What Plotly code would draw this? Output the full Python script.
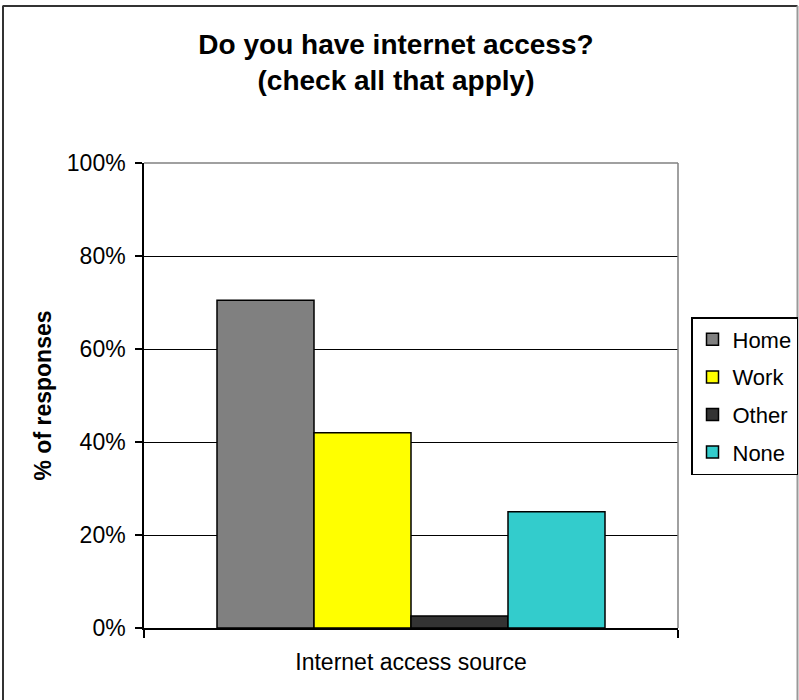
import plotly.graph_objects as go

categories = ["Internet access source"]
series_names = ["Home", "Work", "Other", "None"]
series_values = [0.705, 0.42, 0.026, 0.25]
series_colors = ["#808080", "#FFFF00", "#333333", "#33CCCC"]
y_ticks = [0, 0.2, 0.4, 0.6, 0.8, 1.0]

FONT = "Liberation Sans, Arial, sans-serif"
W, H = 799, 700
L, R, T, B = 144, 678, 163, 628

fig = go.Figure()
for name, val, col in zip(series_names, series_values, series_colors):
    fig.add_trace(go.Bar(
        x=categories, y=[val], name=name, legendgroup=name,
        marker=dict(color=col, line=dict(color="black", width=1.5)),
    ))

def px_to_paper_x(px):
    return (px - L) / (R - L)

def px_to_paper_y(py):
    return (B - py) / (B - T)

shapes = [
    dict(type="line", xref="paper", yref="paper", x0=0, x1=1, y0=1, y1=1,
         line=dict(color="#808080", width=1.5), layer="above"),
    dict(type="line", xref="paper", yref="paper", x0=1, x1=1, y0=0, y1=1,
         line=dict(color="#808080", width=1.5), layer="above"),
    dict(type="line", xref="paper", yref="paper",
         x0=px_to_paper_x(2.5), x1=px_to_paper_x(797.5),
         y0=px_to_paper_y(6), y1=px_to_paper_y(6),
         line=dict(color="#333333", width=2)),
    dict(type="line", xref="paper", yref="paper",
         x0=px_to_paper_x(3), x1=px_to_paper_x(3),
         y0=px_to_paper_y(6), y1=px_to_paper_y(702),
         line=dict(color="#333333", width=2)),
    dict(type="line", xref="paper", yref="paper",
         x0=px_to_paper_x(797.5), x1=px_to_paper_x(797.5),
         y0=px_to_paper_y(6), y1=px_to_paper_y(702),
         line=dict(color="#999999", width=2)),
]

fig.update_layout(
    width=W, height=H,
    margin=dict(l=L, r=W - R, t=T, b=H - B, pad=0, autoexpand=False),
    paper_bgcolor="white", plot_bgcolor="white",
    font=dict(family=FONT, size=23, color="black"),
    barmode="group", bargap=0.2734, bargroupgap=0,
    title=dict(
        text="Do you have internet access?<br>(check all that apply)",
        font=dict(family=FONT, size=28, color="black", weight="bold"),
        x=396 / W, xanchor="center", xref="container",
        y=1 - 54 / H, yanchor="top", yref="container",
    ),
    xaxis=dict(
        showline=True, linecolor="black", linewidth=1.5,
        ticks="outside", tickson="boundaries", ticklen=8, tickcolor="black", tickwidth=1.5,
        showgrid=False, zeroline=False,
        tickfont=dict(family=FONT, size=23, color="black"),
        ticklabelstandoff=13,
    ),
    yaxis=dict(
        range=[0, 1], tickvals=y_ticks, tickformat=".0%",
        showline=True, linecolor="black", linewidth=1.5,
        ticks="outside", ticklen=7, tickcolor="black", tickwidth=1.5,
        showgrid=True, gridcolor="black", gridwidth=1,
        zeroline=False,
        tickfont=dict(family=FONT, size=23, color="black"),
        ticklabelstandoff=5,
        title=dict(text="% of responses", standoff=9,
                   font=dict(family=FONT, size=23, color="black", weight="bold")),
    ),
    legend=dict(
        x=px_to_paper_x(691), xanchor="left",
        y=px_to_paper_y(317), yanchor="top",
        bordercolor="black", borderwidth=1.5, bgcolor="white",
        font=dict(family=FONT, size=22, color="black"),
        tracegroupgap=6, itemwidth=30, traceorder="grouped",
    ),
    shapes=shapes,
    showlegend=True,
)

fig.write_html(
    "out.html",
    config={"displayModeBar": False},
    post_script="document.body.style.margin='0';document.body.style.overflow='hidden';",
)
